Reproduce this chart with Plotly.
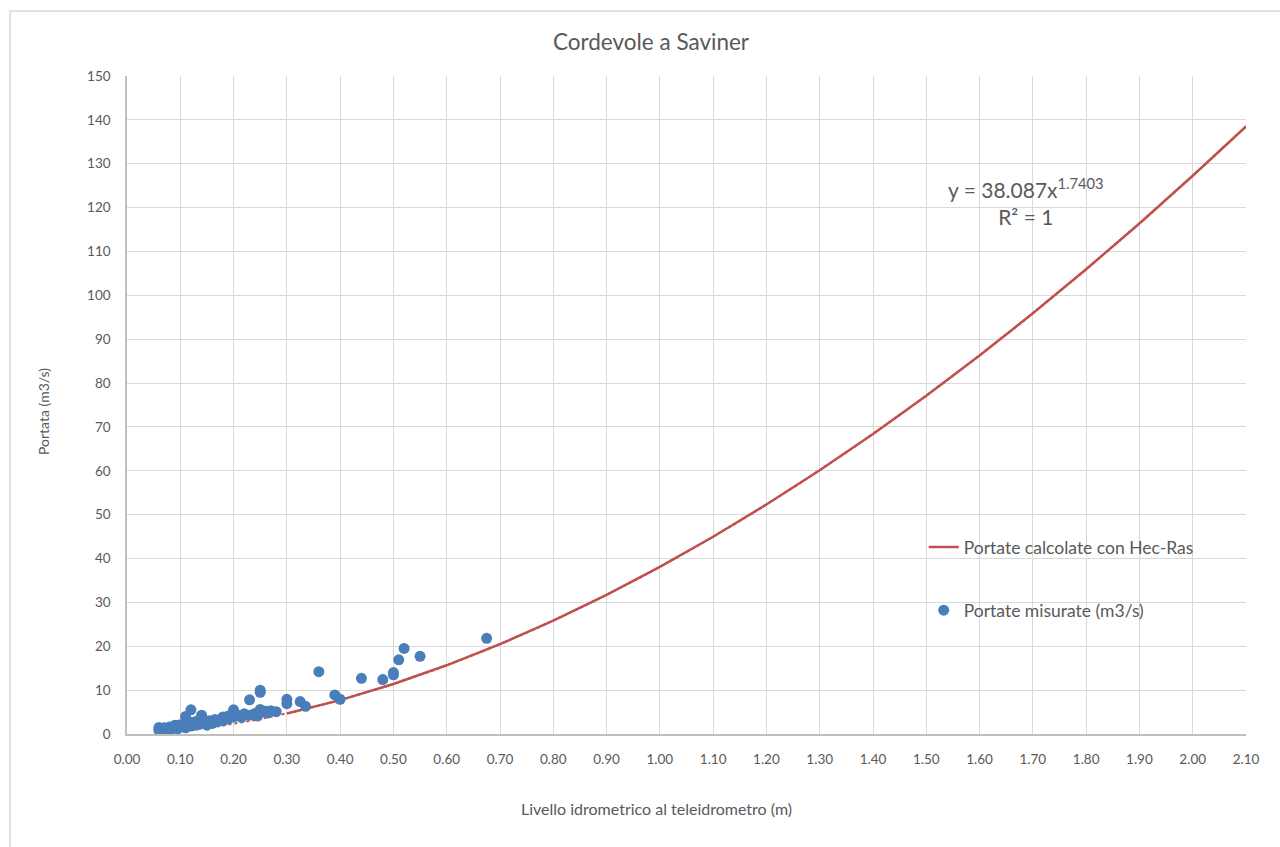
import numpy as np
import plotly.graph_objects as go

# Discharges computed with Hec-Ras (stage in m, discharge in m3/s)
hecras_stage = [0.30, 0.40, 0.50, 0.60, 0.70, 0.80, 0.90, 1.00, 1.10, 1.20, 1.30,
                1.40, 1.50, 1.60, 1.70, 1.80, 1.90, 2.00, 2.10]
hecras_flow = [4.69, 7.73, 11.40, 15.66, 20.47, 25.83, 31.71, 38.09, 44.96, 52.31, 60.13,
               68.41, 77.13, 86.30, 95.90, 105.93, 116.39, 127.25, 138.50]

# Measured discharges
meas_stage = [0.06, 0.06, 0.06, 0.065, 0.07, 0.07, 0.075, 0.08, 0.08, 0.08, 0.085, 0.09,
              0.09, 0.095, 0.10, 0.10, 0.105, 0.11, 0.11, 0.11, 0.115, 0.12, 0.12, 0.12,
              0.125, 0.13, 0.13, 0.14, 0.14, 0.145, 0.15, 0.15, 0.155, 0.16, 0.16, 0.165,
              0.17, 0.175, 0.18, 0.18, 0.185, 0.19, 0.19, 0.20, 0.20, 0.21, 0.215, 0.22,
              0.23, 0.23, 0.24, 0.245, 0.25, 0.25, 0.25, 0.255, 0.26, 0.265, 0.27, 0.28,
              0.30, 0.30, 0.325, 0.335, 0.36, 0.39, 0.40, 0.44, 0.48, 0.50, 0.50, 0.51,
              0.52, 0.55, 0.675]
meas_flow = [0.8, 1.2, 1.5, 1.0, 0.9, 1.4, 1.2, 0.7, 1.1, 1.6, 1.3, 1.5,
             2.0, 1.2, 1.6, 2.1, 1.8, 1.4, 2.3, 4.0, 2.0, 5.5, 1.8, 2.6,
             2.2, 2.0, 2.9, 4.3, 2.4, 3.1, 2.0, 2.7, 3.0, 2.4, 2.9, 3.3,
             2.8, 3.2, 3.9, 3.0, 3.5, 4.1, 3.4, 5.5, 3.9, 4.2, 3.8, 4.6,
             7.8, 4.3, 4.7, 4.1, 10.0, 9.5, 5.6, 5.0, 5.2, 4.8, 5.3, 5.1,
             7.9, 6.9, 7.4, 6.3, 14.2, 8.9, 7.9, 12.7, 12.4, 13.5, 14.0, 16.9,
             19.5, 17.7, 21.8]

# Power-law trendline fitted on the Hec-Ras curve: Q = a * h^b
fit_a = 38.087
fit_b = 1.7403
fit_start, fit_end = 0.09, 2.10

x_ticks = [round(0.1 * i, 2) for i in range(22)]
x_ticklabels = [f"{v:.2f}" for v in x_ticks]
y_ticks = list(range(0, 151, 10))

RED = "#C0504D"
BLUE = "#4A7EBB"
TXT = "#595959"
FONT = "Lato"

fig = go.Figure()

trend_x = np.linspace(fit_start, fit_end, 200)
trend_y = fit_a * trend_x ** fit_b
fig.add_trace(go.Scatter(
    x=trend_x, y=trend_y, mode="lines",
    line=dict(color=RED, width=2, dash="dot"),
    showlegend=False, hoverinfo="skip",
))

fig.add_trace(go.Scatter(
    x=hecras_stage, y=hecras_flow, mode="lines",
    name="Portate calcolate con Hec-Ras",
    line=dict(color=RED, width=2.5),
    legend="legend",
))

fig.add_trace(go.Scatter(
    x=meas_stage, y=meas_flow, mode="markers",
    name="Portate misurate (m3/s)",
    marker=dict(color=BLUE, size=11, line=dict(width=0)),
    legend="legend2",
))

fig.update_layout(
    width=1280, height=847,
    margin=dict(l=127, r=34, t=76, b=113),
    paper_bgcolor="white", plot_bgcolor="white",
    font=dict(family=FONT, color=TXT, size=13),
    title=dict(text="Cordevole a Saviner", x=651 / 1280, xanchor="center",
               y=1 - 42 / 847, yanchor="middle",
               font=dict(size=22.5, color=TXT, family=FONT)),
    xaxis=dict(range=[0, 2.1], tickvals=x_ticks, ticktext=x_ticklabels,
               showgrid=True, gridcolor="#D9D9D9", gridwidth=1,
               showline=True, linecolor="#BFBFBF", linewidth=1.5,
               zeroline=False, ticks="", ticklabelstandoff=12,
               tickfont=dict(size=13.5, color=TXT)),
    yaxis=dict(range=[0, 150], tickvals=y_ticks,
               showgrid=True, gridcolor="#D9D9D9", gridwidth=1,
               showline=True, linecolor="#BFBFBF", linewidth=1.5,
               zeroline=False, ticks="", ticklabelstandoff=12,
               tickfont=dict(size=13.5, color=TXT)),
    legend=dict(x=0.712, y=0.284, xanchor="left", yanchor="middle",
                bgcolor="rgba(0,0,0,0)", font=dict(size=17.5, color=TXT, family=FONT)),
    legend2=dict(x=0.712, y=0.188, xanchor="left", yanchor="middle",
                 bgcolor="rgba(0,0,0,0)", font=dict(size=17.5, color=TXT, family=FONT)),
    showlegend=True,
)

fig.add_annotation(
    text="y = 38.087x<sup>1.7403</sup><br>R² = 1",
    xref="paper", yref="paper", x=(1026 - 127) / 1119, y=(734 - 201) / 658,
    xanchor="center", yanchor="middle", align="center", showarrow=False,
    font=dict(size=21, color=TXT, family=FONT),
)

fig.add_annotation(
    text="Livello idrometrico al teleidrometro (m)",
    xref="paper", yref="paper", x=(656 - 127) / 1119, y=(734 - 808) / 658,
    xanchor="center", yanchor="middle", showarrow=False,
    font=dict(size=16, color=TXT, family=FONT),
)

fig.add_annotation(
    text="Portata (m3/s)", textangle=-90,
    xref="paper", yref="paper", x=(43 - 127) / 1119, y=(734 - 412) / 658,
    xanchor="center", yanchor="middle", showarrow=False,
    font=dict(size=14, color=TXT, family=FONT),
)

# Outer chart frame
fig.add_shape(
    type="rect", xref="paper", yref="paper",
    x0=(10 - 127) / 1119, x1=(1300 - 127) / 1119,
    y0=(734 - 870) / 658, y1=(734 - 11) / 658,
    line=dict(color="#D9D9D9", width=1.5), fillcolor="rgba(0,0,0,0)", layer="below",
)

fig.write_html("out.html")
